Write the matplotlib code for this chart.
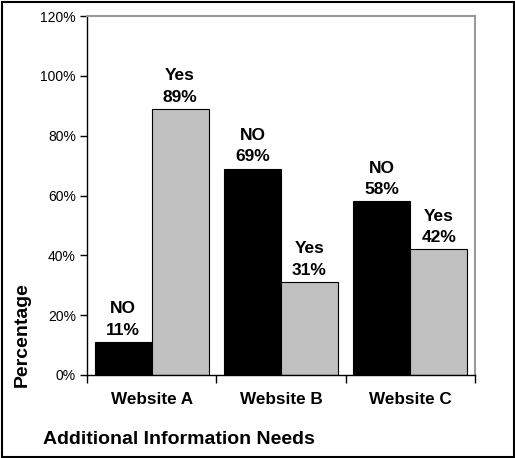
import matplotlib
matplotlib.use("Agg")
import matplotlib.pyplot as plt
import numpy as np
from matplotlib.ticker import FuncFormatter
from matplotlib.patches import Rectangle

plt.rcParams['font.family'] = ['Liberation Sans', 'DejaVu Sans']

categories = ["Website A", "Website B", "Website C"]
no_vals = [11, 69, 58]
yes_vals = [89, 31, 42]
no_label = "NO"
yes_label = "Yes"

fig = plt.figure(figsize=(5.15, 4.58), dpi=100)
ax = fig.add_axes([87/515, 1-375/458, (475-87)/515, (375-16)/458])

x = np.arange(len(categories))
w = 0.44
ax.bar(x - w/2, no_vals, width=w, color="black", edgecolor="black", linewidth=0.8)
ax.bar(x + w/2, yes_vals, width=w, color="#c0c0c0", edgecolor="black", linewidth=0.8)

for xi, v in zip(x, no_vals):
    ax.annotate(f"{no_label}\n{v}%", (xi - w/2, v), xytext=(0, 3), textcoords="offset points",
                ha="center", va="bottom", fontsize=12.5, fontweight="bold", linespacing=1.55)
for xi, v in zip(x, yes_vals):
    ax.annotate(f"{yes_label}\n{v}%", (xi + w/2, v), xytext=(0, 3), textcoords="offset points",
                ha="center", va="bottom", fontsize=12.5, fontweight="bold", linespacing=1.55)

ax.set_xlim(-0.5, len(categories) - 0.5)
ax.set_ylim(0, 120)
ax.set_yticks(np.arange(0, 121, 20))
ax.yaxis.set_major_formatter(FuncFormatter(lambda v, p: f"{int(v)}%"))
ax.tick_params(axis="y", labelsize=10, direction="out", length=5, width=1, pad=3)

ax.set_xticks(x)
ax.set_xticklabels(categories, fontsize=12.3, fontweight="bold")
ax.tick_params(axis="x", length=0, pad=12)
ax.set_xticks(np.arange(-0.5, len(categories)), minor=True)
ax.tick_params(axis="x", which="minor", length=6, width=1, direction="out")

for s in ["left", "bottom"]:
    ax.spines[s].set_color("black")
    ax.spines[s].set_linewidth(1)
for s in ["top", "right"]:
    ax.spines[s].set_color("#999999")
    ax.spines[s].set_linewidth(1.5)

fig.text(22/515, 1-335/458, "Percentage", rotation=90, ha="center", va="center",
         fontsize=14, fontweight="bold")
fig.text(43/515, 1-440/458, "Additional Information Needs", ha="left", va="center",
         fontsize=14, fontweight="bold")

fig.patches.append(Rectangle((1.5/515, 1.5/458), 1-3/515, 1-3/458, transform=fig.transFigure,
                             fill=False, edgecolor="black", linewidth=1.5))

fig.savefig("out.png", dpi=100)
